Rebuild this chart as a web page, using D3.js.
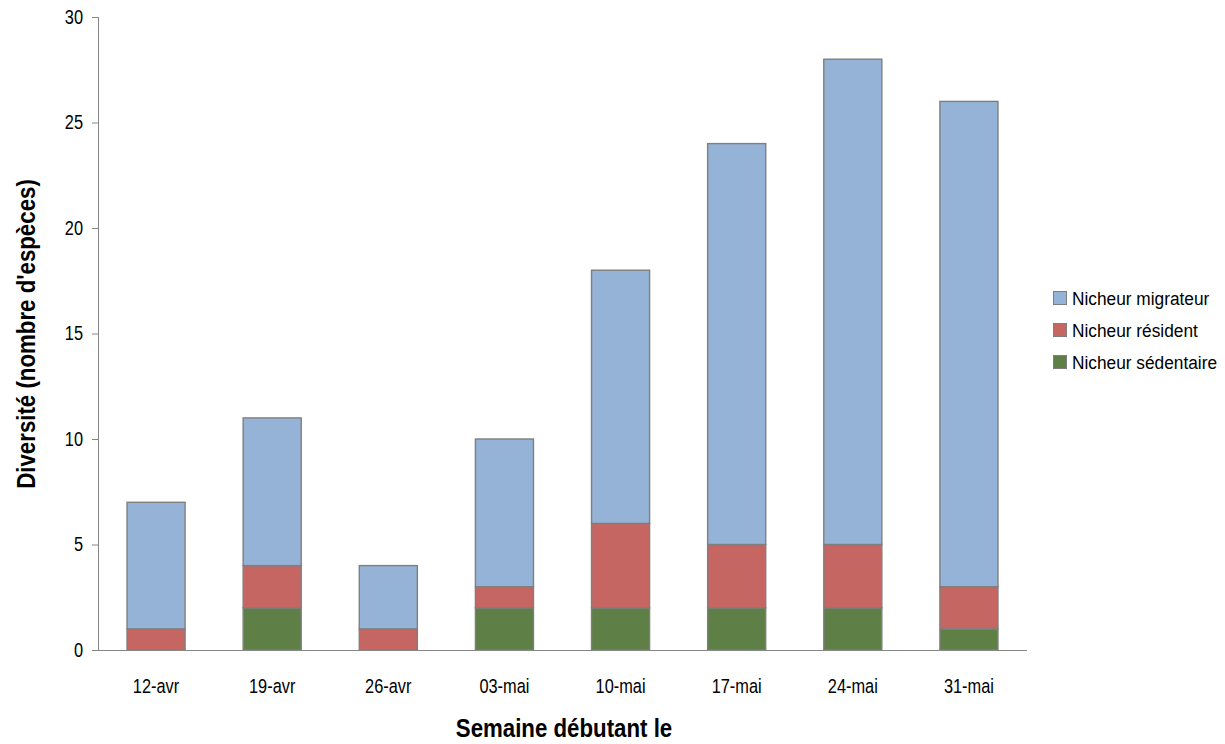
<!DOCTYPE html>
<html>
<head>
<meta charset="utf-8">
<script src="https://cdn.jsdelivr.net/npm/d3@7"></script>
<style>
    body { margin: 0; background: #fff; }
    svg { font-family: "Liberation Sans", Arial, sans-serif; }
</style>
</head>
<body>
<svg id="chart" width="1225" height="744"></svg>
<script>
const weeks = ["12-avr", "19-avr", "26-avr", "03-mai", "10-mai", "17-mai", "24-mai", "31-mai"];
const sedentaire = [0, 2, 0, 2, 2, 2, 2, 1];
const resident = [1, 2, 1, 1, 4, 3, 3, 2];
const migrateur = [6, 7, 3, 7, 12, 19, 23, 23];
const yTicks = [0, 5, 10, 15, 20, 25, 30];

const seriesNames = ["Nicheur sédentaire", "Nicheur résident", "Nicheur migrateur"];
const colors = ["#5E7F46", "#C66663", "#95B3D7"];

const rows = weeks.map((w, i) => ({
    week: w,
    "Nicheur sédentaire": sedentaire[i],
    "Nicheur résident": resident[i],
    "Nicheur migrateur": migrateur[i]
}));

// no narrow font installed, so squeeze text horizontally
const squeeze = 0.84;

const svg = d3.select("#chart");
const margens = { left: 98, right: 198, top: 17, bottom: 94 };
const width = 1225, height = 744;

const mapX = d3.scaleBand()
    .domain(weeks)
    .range([margens.left, width - margens.right])
    .paddingInner(0.5)
    .paddingOuter(0.25);

const mapY = d3.scaleLinear()
    .domain([0, 30])
    .range([height - margens.bottom, margens.top]);

const stack = d3.stack().keys(seriesNames)(rows);

// bars
svg.append("g")
    .selectAll("g")
    .data(stack)
    .enter()
    .append("g")
    .attr("fill", (d, i) => colors[i])
    .selectAll("rect")
    .data((d) => d.filter((s) => s[1] - s[0] > 0))
    .enter()
    .append("rect")
    .attr("x", (d) => mapX(d.data.week))
    .attr("y", (d) => mapY(d[1]))
    .attr("width", mapX.bandwidth())
    .attr("height", (d) => mapY(d[0]) - mapY(d[1]))
    .attr("stroke", "#7F7F7F")
    .attr("stroke-width", 1.4);

// y axis
const yAxis = d3.axisLeft(mapY).tickValues(yTicks).tickSize(6).tickPadding(8);
const gy = svg.append("g")
    .attr("transform", `translate(${margens.left}, 0)`)
    .call(yAxis);
gy.select(".domain").attr("stroke", "#868686");
gy.selectAll(".tick line").attr("stroke", "#868686");
gy.selectAll(".tick text")
    .attr("font-size", 19.5)
    .attr("fill", "#000")
    .attr("x", -15 / squeeze)
    .attr("transform", `scale(${squeeze},1)`);

// x axis
const xAxis = d3.axisBottom(mapX).tickSize(0).tickPadding(29);
const gx = svg.append("g")
    .attr("transform", `translate(0, ${height - margens.bottom})`)
    .call(xAxis);
gx.select(".domain").attr("stroke", "#868686").attr("d", `M${margens.left},0.5H${width - margens.right}`);
gx.selectAll(".tick text")
    .attr("font-size", 19.5)
    .attr("fill", "#000")
    .attr("transform", `scale(${squeeze},1)`);

// axis titles
svg.append("text")
    .attr("transform", `translate(564, 737) scale(${squeeze},1)`)
    .attr("text-anchor", "middle")
    .attr("font-size", 26.5)
    .attr("font-weight", "bold")
    .text("Semaine débutant le");

svg.append("text")
    .attr("transform", `translate(35, 334) rotate(-90) scale(${squeeze},1)`)
    .attr("text-anchor", "middle")
    .attr("font-size", 26.5)
    .attr("font-weight", "bold")
    .text("Diversité (nombre d'espèces)");

// legend
const legendItems = [
    { name: "Nicheur migrateur", color: colors[2] },
    { name: "Nicheur résident", color: colors[1] },
    { name: "Nicheur sédentaire", color: colors[0] }
];
const legend = svg.append("g").attr("transform", "translate(1053, 291)");
legend.selectAll("rect")
    .data(legendItems)
    .enter()
    .append("rect")
    .attr("x", 0.5)
    .attr("y", (d, i) => i * 32 + 0.5)
    .attr("width", 13)
    .attr("height", 13)
    .attr("fill", (d) => d.color)
    .attr("stroke", "#7F7F7F")
    .attr("stroke-width", 1);
legend.selectAll("text")
    .data(legendItems)
    .enter()
    .append("text")
    .attr("transform", (d, i) => `translate(19, ${i * 32 + 14}) scale(0.91,1)`)
    .attr("font-size", 19)
    .text((d) => d.name);
</script>
</body>
</html>
